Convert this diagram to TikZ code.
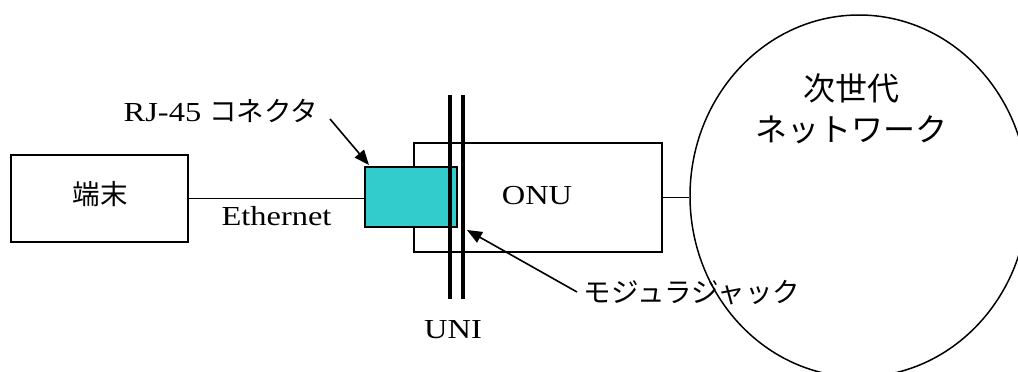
\documentclass[tikz,border=0pt]{standalone}
\usepackage{fontspec}
\setmainfont{Liberation Serif}[FakeStretch=1.18]
\newfontfamily\jp{Noto Sans CJK JP}
\usetikzlibrary{arrows.meta,shapes.geometric}
\begin{document}
\begin{tikzpicture}[x=1pt,y=-1pt,
  box/.style={draw=black,line width=1.5pt,fill=white,inner sep=0pt,rectangle},
  cyanbox/.style={draw=black,line width=1.6pt,fill=rjcyan,inner sep=0pt,rectangle},
  uniline/.style={line width=4.8pt,black},
  conn/.style={line width=1.5pt,black},
  callout/.style={line width=1.6pt,black,-{Triangle[length=15pt,width=12pt]}},
  lat/.style={inner sep=0pt,font=\fontsize{27.5}{32}\selectfont},
  jpl/.style={inner sep=0pt,font=\jp\fontsize{27.5}{32}\selectfont},
  jpbig/.style={inner sep=0pt,font=\jp\fontsize{32}{38}\selectfont}]
\definecolor{rjcyan}{HTML}{33CCCC}
\useasboundingbox (0,0) rectangle (1018,372);
\clip (0,0) rectangle (1018,372);
% network cloud
\node[draw=black,line width=1.5pt,ellipse,inner sep=0pt,minimum width=338pt,minimum height=362pt] (net) at (859,196) {};
% terminal
\node[box,minimum width=177pt,minimum height=87pt] (term) at (99.5,198.5) {};
\node[jpl] (termlbl) at (100,194) {端末};
% ONU
\node[box,minimum width=248pt,minimum height=109pt] (onu) at (538,197.5) {};
\node[lat] (onulbl) at (537,196) {ONU};
% RJ-45 connector
\node[cyanbox,minimum width=92pt,minimum height=60pt] (rj) at (411,197) {};
% UNI lines
\coordinate (u1t) at (450,95); \coordinate (u1b) at (450,299);
\coordinate (u2t) at (463,95); \coordinate (u2b) at (463,299);
\draw[uniline] (u1t) -- (u1b);
\draw[uniline] (u2t) -- (u2b);
% connectors
\draw[conn] (term.east) -- (term.east -| rj.west);
\draw[conn] (onu.east) -- (onu.east -| net.west);
% labels
\node[lat] (eth) at (276.5,216) {Ethernet};
\node[lat] (uni) at (453,330) {UNI};
\node[inner sep=0pt] (rjlbl) at (221,111) {\fontsize{27.5}{32}\selectfont RJ-45 {\jp コネクタ}};
\node[jpl] (mjlbl) at (692,293) {モジュラジャック};
\node[jpbig] (net1) at (851.5,88.5) {次世代};
\node[jpbig] (net2) at (851.5,129.5) {ネットワーク};
% callouts
\coordinate (rjtail) at (330,119);
\coordinate (rjtip) at (369,165);
\draw[callout] (rjtail) -- (rjtip);
\coordinate (mjtail) at (577,292);
\coordinate (mjtip) at (467,230);
\draw[callout] (mjtail) -- (mjtip);
\end{tikzpicture}
\end{document}
